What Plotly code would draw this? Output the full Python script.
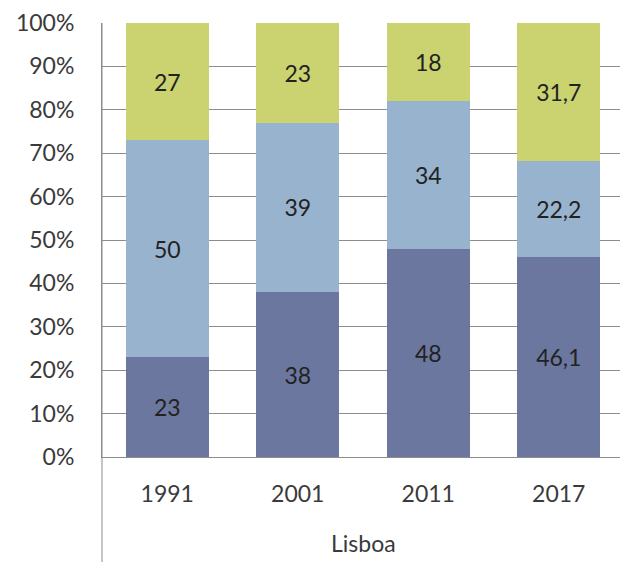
import plotly.graph_objects as go

years = ["1991", "2001", "2011", "2017"]
group = "Lisboa"
bottom_vals = [23, 38, 48, 46.1]
middle_vals = [50, 39, 34, 22.2]
top_vals = [27, 23, 18, 31.7]

colors = ["#6B779F", "#98B3CE", "#CBD270"]

def fmt(v):
    s = ("%g" % v)
    return s.replace(".", ",")

fig = go.Figure()
for vals, col in zip([bottom_vals, middle_vals, top_vals], colors):
    fig.add_trace(go.Bar(
        x=years, y=vals, marker=dict(color=col, line=dict(width=0)),
        text=[fmt(v) for v in vals], textposition="inside",
        insidetextanchor="middle",
        textfont=dict(size=23, color="#222222", family="Lato"),
        hoverinfo="skip",
    ))

# page has an 8px body margin, so the figure is shrunk/shifted to match
W, H = 620, 554
ML, MR, MT, MB = 94, 4, 15, 105
H_PLOT = H - MT - MB
bottom_frac = -MB / H_PLOT

fig.update_layout(
    width=W, height=H, barmode="stack", bargap=0.364,
    showlegend=False, plot_bgcolor="white", paper_bgcolor="white",
    margin=dict(l=ML, r=MR, t=MT, b=MB, autoexpand=False),
    font=dict(family="Lato", size=23, color="#3A3A3A"),
    uniformtext=dict(mode="show", minsize=10),
    shapes=[
        dict(type="line", xref="paper", yref="paper", x0=0, x1=0, y0=bottom_frac, y1=1,
             line=dict(color="#8C8C8C", width=1)),
        dict(type="line", xref="paper", yref="paper", x0=1, x1=1, y0=bottom_frac, y1=0,
             line=dict(color="#8C8C8C", width=1)),
    ],
    annotations=[
        dict(text=group, xref="paper", yref="paper", x=0.5, y=-86 / H_PLOT,
             xanchor="center", yanchor="middle", showarrow=False,
             font=dict(size=23, color="#3A3A3A", family="Lato")),
    ],
)
fig.update_yaxes(range=[0, 100], dtick=10, ticksuffix="%", showgrid=True,
                 gridcolor="#8C8C8C", gridwidth=1, showline=True,
                 linecolor="#8C8C8C", zeroline=False, ticks="",
                 ticklabelstandoff=22, automargin=False,
                 tickfont=dict(size=23, color="#3A3A3A"))
fig.update_xaxes(showline=True, linecolor="#8C8C8C", ticks="",
                 ticklabelstandoff=16, automargin=False,
                 tickfont=dict(size=23, color="#3A3A3A"))
fig.write_html("out.html")
